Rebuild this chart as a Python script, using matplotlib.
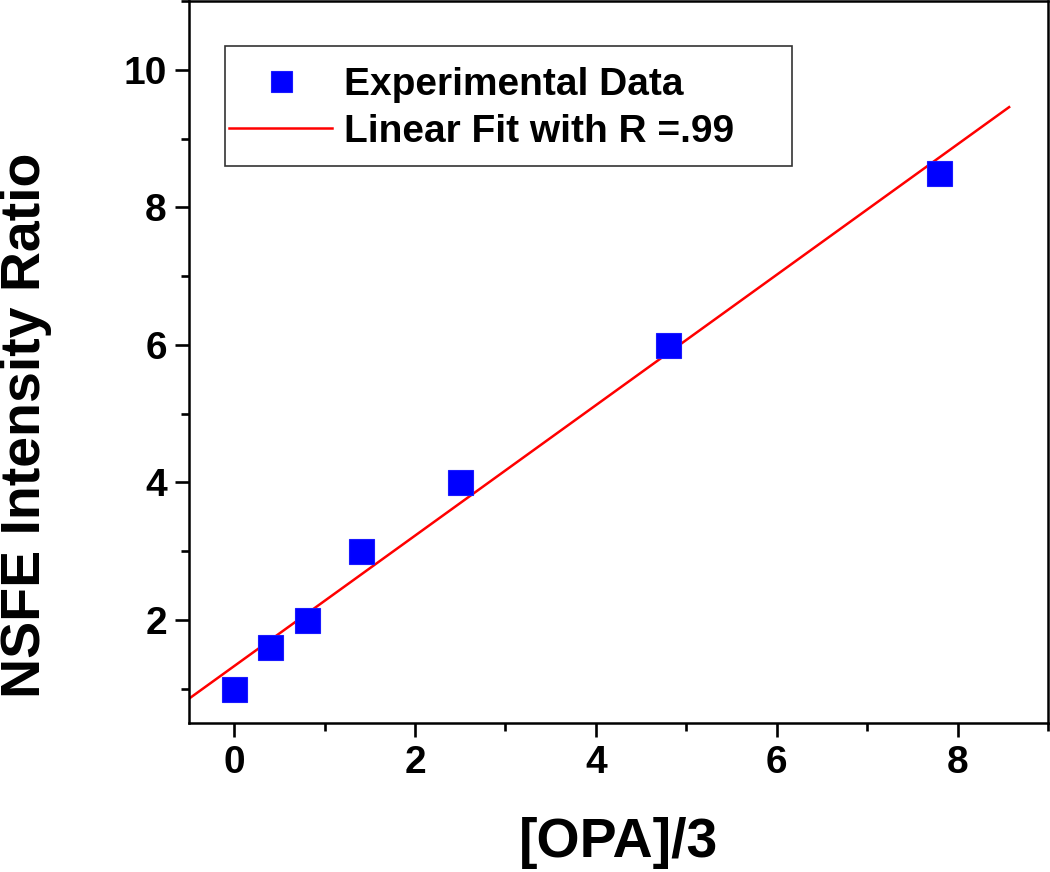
import matplotlib
matplotlib.use("Agg")
import matplotlib.pyplot as plt
import numpy as np
from matplotlib.patches import Rectangle
from matplotlib.ticker import MultipleLocator

# Data
opa = [0.0, 0.4, 0.8, 1.4, 2.5, 4.8, 7.8]
ratio = [1.0, 1.6, 2.0, 3.0, 4.0, 6.0, 8.5]
fit_x = [-0.5, 8.57]
fit_slope = 0.9485
fit_intercept = 1.328
fit_y = [fit_intercept + fit_slope * v for v in fit_x]

plt.rcParams['font.family'] = ['Liberation Sans', 'DejaVu Sans']
plt.rcParams['font.weight'] = 'bold'

fig = plt.figure(figsize=(10.5, 8.72), dpi=100)
W, H = 1050, 872
L, R, B, T = 189, 1048, 723, 1
ax = fig.add_axes([L / W, 1 - B / H, (R - L) / W, (B - T) / H])

ax.plot(opa, ratio, linestyle='none', marker='s', markersize=18,
        color='#0000ff', markeredgecolor='#1a1aff', markeredgewidth=0.8,
        label='Experimental Data', zorder=3)
ax.plot(fit_x, fit_y, color='#ff0000', linewidth=1.8,
        label='Linear Fit with R =.99', zorder=2)

ax.set_xlim(-0.5, 9)
ax.set_ylim(0.5, 11)
ax.xaxis.set_major_locator(MultipleLocator(2))
ax.xaxis.set_minor_locator(MultipleLocator(1))
ax.yaxis.set_major_locator(MultipleLocator(2))
ax.yaxis.set_minor_locator(MultipleLocator(1))
ax.set_xticks([0, 2, 4, 6, 8])
ax.set_yticks([2, 4, 6, 8, 10])

for s in ax.spines.values():
    s.set_linewidth(1.8)
ax.tick_params(which='major', direction='out', length=10, width=1.9,
               labelsize=28, pad=6, top=False, right=False)
ax.tick_params(which='minor', direction='out', length=5.5, width=1.9,
               top=False, right=False)
for lab in ax.get_xticklabels() + ax.get_yticklabels():
    lab.set_fontweight('bold')

ax.set_xlabel('[OPA]/3', fontsize=40, fontweight='bold')
ax.set_ylabel('NSFE Intensity Ratio', fontsize=40, fontweight='bold')
ax.xaxis.set_label_coords(0.5, (B - 817) / (B - T))
ax.yaxis.set_label_coords((52 - L) / (R - L), (B - 425) / (B - T))

# legend frame
fx0 = (225 - L) / (R - L)
fy1 = (B - 46) / (B - T)
fx1 = (792 - L) / (R - L)
fy0 = (B - 166) / (B - T)
ax.add_patch(Rectangle((fx0, fy0), fx1 - fx0, fy1 - fy0, transform=ax.transAxes,
                       facecolor='white', edgecolor='#333333', linewidth=1.2,
                       zorder=4))
leg = ax.legend(loc='upper left',
                bbox_to_anchor=((229 - L) / (R - L), (B - 67) / (B - T)),
                frameon=False, borderpad=0, borderaxespad=0,
                handlelength=2.65, handletextpad=0.3, labelspacing=0.28,
                markerscale=0.84, prop={'weight': 'bold', 'size': 28})
leg.set_zorder(5)

fig.savefig('out.png', dpi=100, facecolor='white')
